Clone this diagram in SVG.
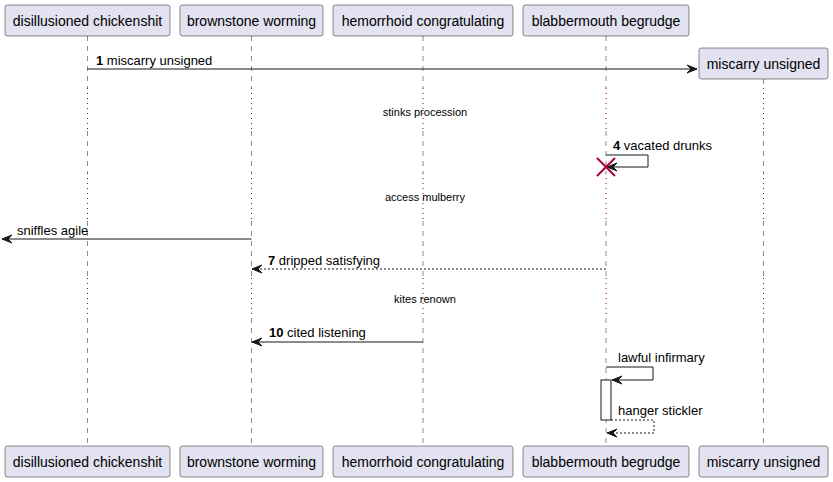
<svg xmlns="http://www.w3.org/2000/svg" width="833" height="482" viewBox="0 0 833 482">
<defs>
<style>
.box{fill:#E2E2F0;stroke:#181818;stroke-width:0.5}
.pt{font-family:"Liberation Sans",Arial,sans-serif;font-size:14px;fill:#000;text-anchor:middle}
.mt{font-family:"Liberation Sans",Arial,sans-serif;font-size:13px;fill:#000}
.dt{font-family:"Liberation Sans",Arial,sans-serif;font-size:11px;fill:#000;text-anchor:middle}
.life{stroke:#181818;stroke-width:0.5;stroke-dasharray:5,5;fill:none}
.delay{stroke:#A80036;stroke-width:1;stroke-dasharray:1,4;fill:none}
.msg{stroke:#181818;stroke-width:1;fill:none}
.dash{stroke:#181818;stroke-width:1;fill:none;stroke-dasharray:2,2}
.head{fill:#181818;stroke:#181818;stroke-width:1}
</style>
</defs>
<g id="lifelines">
<line class="life" x1="87.5" y1="36" x2="87.5" y2="88"/>
<line class="delay" x1="87.5" y1="88" x2="87.5" y2="131"/>
<line class="life" x1="87.5" y1="131" x2="87.5" y2="173"/>
<line class="delay" x1="87.5" y1="173" x2="87.5" y2="221"/>
<line class="life" x1="87.5" y1="221" x2="87.5" y2="278"/>
<line class="delay" x1="87.5" y1="278" x2="87.5" y2="318"/>
<line class="life" x1="87.5" y1="318" x2="87.5" y2="446"/>

<line class="life" x1="251.5" y1="36" x2="251.5" y2="88"/>
<line class="delay" x1="251.5" y1="88" x2="251.5" y2="131"/>
<line class="life" x1="251.5" y1="131" x2="251.5" y2="173"/>
<line class="delay" x1="251.5" y1="173" x2="251.5" y2="221"/>
<line class="life" x1="251.5" y1="221" x2="251.5" y2="278"/>
<line class="delay" x1="251.5" y1="278" x2="251.5" y2="318"/>
<line class="life" x1="251.5" y1="318" x2="251.5" y2="446"/>

<line class="life" x1="423" y1="36" x2="423" y2="88"/>
<line class="delay" x1="423" y1="88" x2="423" y2="131"/>
<line class="life" x1="423" y1="131" x2="423" y2="173"/>
<line class="delay" x1="423" y1="173" x2="423" y2="221"/>
<line class="life" x1="423" y1="221" x2="423" y2="278"/>
<line class="delay" x1="423" y1="278" x2="423" y2="318"/>
<line class="life" x1="423" y1="318" x2="423" y2="446"/>

<line class="life" x1="606" y1="36" x2="606" y2="88"/>
<line class="delay" x1="606" y1="88" x2="606" y2="131"/>
<line class="life" x1="606" y1="131" x2="606" y2="173"/>
<line class="delay" x1="606" y1="173" x2="606" y2="221"/>
<line class="life" x1="606" y1="221" x2="606" y2="278"/>
<line class="delay" x1="606" y1="278" x2="606" y2="318"/>
<line class="life" x1="606" y1="318" x2="606" y2="446"/>

<line class="life" x1="763.5" y1="79" x2="763.5" y2="88"/>
<line class="delay" x1="763.5" y1="88" x2="763.5" y2="131"/>
<line class="life" x1="763.5" y1="131" x2="763.5" y2="173"/>
<line class="delay" x1="763.5" y1="173" x2="763.5" y2="221"/>
<line class="life" x1="763.5" y1="221" x2="763.5" y2="278"/>
<line class="delay" x1="763.5" y1="278" x2="763.5" y2="318"/>
<line class="life" x1="763.5" y1="318" x2="763.5" y2="446"/>
</g>

<g id="activation">
<rect x="601" y="380" width="10" height="40" fill="#FFFFFF" stroke="#181818" stroke-width="1"/>
</g>

<g id="p1">
<rect class="box" x="5" y="5" width="165" height="31" rx="2.5"/>
<text class="pt" x="87.5" y="26">disillusioned chickenshit</text>
<rect class="box" x="5" y="446" width="165" height="31" rx="2.5"/>
<text class="pt" x="87.5" y="467">disillusioned chickenshit</text>
</g>
<g id="p2">
<rect class="box" x="180" y="5" width="143" height="31" rx="2.5"/>
<text class="pt" x="251.5" y="26">brownstone worming</text>
<rect class="box" x="180" y="446" width="143" height="31" rx="2.5"/>
<text class="pt" x="251.5" y="467">brownstone worming</text>
</g>
<g id="p3">
<rect class="box" x="333" y="5" width="180" height="31" rx="2.5"/>
<text class="pt" x="423" y="26">hemorrhoid congratulating</text>
<rect class="box" x="333" y="446" width="180" height="31" rx="2.5"/>
<text class="pt" x="423" y="467">hemorrhoid congratulating</text>
</g>
<g id="p4">
<rect class="box" x="523" y="5" width="166" height="31" rx="2.5"/>
<text class="pt" x="606" y="26">blabbermouth begrudge</text>
<rect class="box" x="523" y="446" width="166" height="31" rx="2.5"/>
<text class="pt" x="606" y="467">blabbermouth begrudge</text>
</g>
<g id="p5">
<rect class="box" x="699" y="48" width="129" height="31" rx="2.5"/>
<text class="pt" x="763.5" y="69">miscarry unsigned</text>
<rect class="box" x="699" y="446" width="129" height="31" rx="2.5"/>
<text class="pt" x="763.5" y="467">miscarry unsigned</text>
</g>

<g id="delays">
<text class="dt" x="425" y="116">stinks procession</text>
<text class="dt" x="425" y="201">access mulberry</text>
<text class="dt" x="425" y="303">kites renown</text>
</g>

<g id="connectors">
<line class="msg" x1="87.5" y1="69" x2="697" y2="69"/>
<polygon class="head" points="687,65 697,69 687,73 691,69"/>
<text class="mt" x="96" y="65"><tspan font-weight="bold">1</tspan> miscarry unsigned</text>

<polyline class="msg" points="606,155 648,155 648,167 607,167"/>
<polygon class="head" points="617,163 607,167 617,171 613,167"/>
<text class="mt" x="613" y="150"><tspan font-weight="bold">4</tspan> vacated drunks</text>
<g stroke="#A80036" stroke-width="2">
<line x1="597" y1="158" x2="615" y2="176"/>
<line x1="615" y1="158" x2="597" y2="176"/>
</g>

<line class="msg" x1="251.5" y1="239" x2="2" y2="239"/>
<polygon class="head" points="12,235 2,239 12,243 8,239"/>
<text class="mt" x="17" y="235">sniffles agile</text>

<line class="dash" x1="606" y1="269" x2="252" y2="269"/>
<polygon class="head" points="262,265 252,269 262,273 258,269"/>
<text class="mt" x="268" y="265"><tspan font-weight="bold">7</tspan> dripped satisfying</text>

<line class="msg" x1="423" y1="342" x2="252" y2="342"/>
<polygon class="head" points="262,338 252,342 262,346 258,342"/>
<text class="mt" x="269" y="337"><tspan font-weight="bold">10</tspan> cited listening</text>

<polyline class="msg" points="606,367 653,367 653,380 612,380"/>
<polygon class="head" points="622,376 612,380 622,384 618,380"/>
<text class="mt" x="618" y="362">lawful infirmary</text>

<polyline class="dash" points="611,420 654,420 654,433 607,433"/>
<polygon class="head" points="617,429 607,433 617,437 613,433"/>
<text class="mt" x="618" y="415">hanger stickler</text>
</g>
</svg>
